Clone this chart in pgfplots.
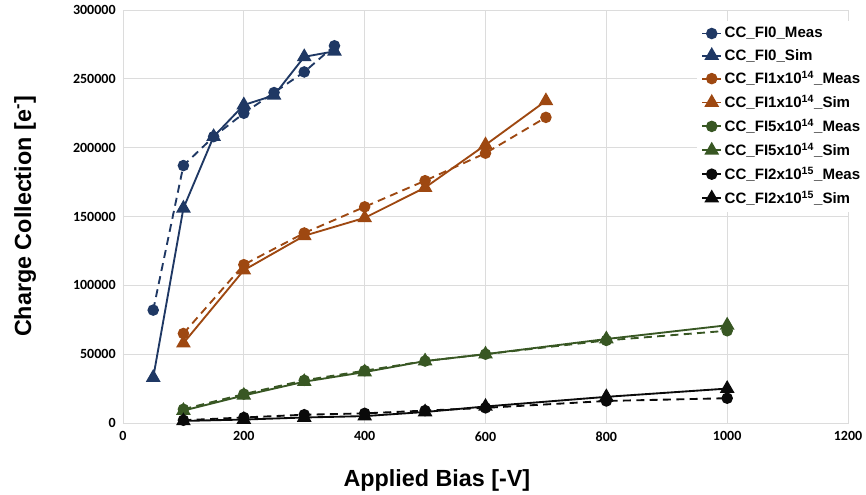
\documentclass[border=0pt]{standalone}
\usepackage{pgfplots}
\pgfplotsset{compat=1.18}
\usepackage{fontspec}
\setmainfont{Liberation Sans}
\newfontfamily\carlito{Carlito}
\definecolor{fizero}{RGB}{31,56,100}
\definecolor{fione}{RGB}{158,72,17}
\definecolor{fifive}{RGB}{56,87,35}
\definecolor{fitwo}{RGB}{10,10,10}
\definecolor{gridgray}{RGB}{220,220,220}

\begin{document}
\begin{tikzpicture}
\useasboundingbox (-92.25pt,-54pt) rectangle (557.25pt,317.25pt);
\begin{axis}[
    at={(0pt,0pt)}, anchor=south west,
    scale only axis,
    width=543.75pt, height=309.75pt,
    xmin=0, xmax=1200, ymin=0, ymax=300000,
    xtick={0,200,...,1200},
    ytick={0,50000,...,300000},
    scaled ticks=false,
    /pgf/number format/.cd, fixed, 1000 sep={}, /pgfplots/.cd,
    /pgf/number format/assume math mode=true,
    grid=major,
    major grid style={draw=gridgray, line width=0.7pt},
    axis line style={draw=gridgray, line width=0.7pt},
    tick style={draw=none},
    tick label style={font=\carlito\bfseries\fontsize{10.5}{12}\selectfont},
    xticklabel style={yshift=-3pt},
    yticklabel style={xshift=-2pt},
    xlabel={Applied Bias [-V]},
    ylabel={Charge Collection [e\textsuperscript{-}]},
    every axis x label/.style={at={(axis description cs:0.433,-0.138)}, anchor=center,
        font=\bfseries\fontsize{17.5}{20}\selectfont},
    every axis y label/.style={at={(axis description cs:-0.135,0.5)}, anchor=center, rotate=90,
        font=\bfseries\fontsize{17.5}{20}\selectfont},
    legend cell align=left,
    legend style={at={(rel axis cs:0.792,0.975)}, anchor=north west,
        draw=none, fill=white, font=\bfseries\fontsize{11.3}{13}\selectfont,
        row sep=3pt, inner sep=3pt},
    legend image code/.code={%
        \draw[solid,mark repeat=2,mark phase=2] plot coordinates {(0pt,0pt)(7pt,0pt)(14pt,0pt)};},
    meas/.style={dashed, dash pattern=on 6pt off 4pt, line width=1.4pt, mark=*, mark size=3.6pt, mark options={solid}},
    sim/.style={solid, line width=1.4pt, mark=triangle*, mark size=5pt, mark options={solid}},
]
% Fluence 0
\addplot[meas, color=fizero] coordinates {
  (50,82000)(100,187000)(150,208000)(200,225000)(250,240000)(300,255000)(350,274000)};
\addlegendentry{CC\_FI0\_Meas}
\addplot[sim, color=fizero] coordinates {
  (50,33000)(100,156000)(150,208000)(200,231000)(250,238000)(300,266000)(350,270000)};
\addlegendentry{CC\_FI0\_Sim}
% Fluence 1e14
\addplot[meas, color=fione] coordinates {
  (100,65000)(200,115000)(300,138000)(400,157000)(500,176000)(600,196000)(700,222000)};
\addlegendentry{CC\_FI1x10\textsuperscript{14}\_Meas}
\addplot[sim, color=fione] coordinates {
  (100,58000)(200,111000)(300,136000)(400,149000)(500,171000)(600,202000)(700,234000)};
\addlegendentry{CC\_FI1x10\textsuperscript{14}\_Sim}
% Fluence 5e14
\addplot[meas, color=fifive] coordinates {
  (100,10000)(200,21000)(300,31000)(400,38000)(500,45000)(600,50000)(800,60000)(1000,67000)};
\addlegendentry{CC\_FI5x10\textsuperscript{14}\_Meas}
\addplot[sim, color=fifive] coordinates {
  (100,9000)(200,20000)(300,30000)(400,37000)(500,45000)(600,50000)(800,61000)(1000,71000)};
\addlegendentry{CC\_FI5x10\textsuperscript{14}\_Sim}
% Fluence 2e15
\addplot[meas, color=fitwo] coordinates {
  (100,2000)(200,4000)(300,6000)(400,7000)(500,9000)(600,11000)(800,16000)(1000,18000)};
\addlegendentry{CC\_FI2x10\textsuperscript{15}\_Meas}
\addplot[sim, color=fitwo] coordinates {
  (100,1500)(200,2500)(300,4000)(400,5000)(500,8000)(600,12000)(800,19000)(1000,25000)};
\addlegendentry{CC\_FI2x10\textsuperscript{15}\_Sim}
\end{axis}
\end{tikzpicture}
\end{document}
